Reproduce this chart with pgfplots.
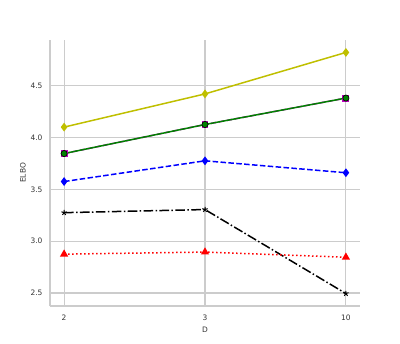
\documentclass[border=0pt]{standalone}
\usepackage{fontspec}
\setmainfont{DejaVu Sans}
\usepackage{pgfplots}
\pgfplotsset{compat=1.18}
\definecolor{mplY}{rgb}{0.75,0.75,0}
\definecolor{mplG}{rgb}{0,0.5,0}
\definecolor{mplM}{rgb}{0.75,0,0.75}
\definecolor{gridc}{rgb}{0.8,0.8,0.8}
\begin{document}
\begin{tikzpicture}
\useasboundingbox (0,0) rectangle (400bp,344bp);
\begin{axis}[
    at={(50bp,38bp)}, anchor=south west,
    scale only axis,
    width=310bp, height=266bp,
    xmin=-0.1, xmax=2.1,
    ymin=2.375, ymax=4.94,
    xtick={0,1,2}, xticklabels={2,3,10},
    ytick={2.5,3.0,3.5,4.0,4.5},
    yticklabel style={/pgf/number format/fixed, /pgf/number format/fixed zerofill, /pgf/number format/precision=1, xshift=-4bp},
    /pgf/number format/assume math mode=true,
    axis x line*=bottom, axis y line*=left,
    axis line style={gridc, line width=1.3bp, -},
    major tick length=0pt,
    grid=major,
    major grid style={gridc, line width=1.1bp},
    tick label style={font=\fontsize{7.5}{8}\selectfont, text=black!80},
    label style={font=\fontsize{7.5}{8}\selectfont, text=black!80},
    xlabel={D}, ylabel={ELBO},
    ylabel style={yshift=-2bp},
    xticklabel style={yshift=-5bp},
    clip=false,
]
% yellow, diamonds
\addplot[mplY, line width=1.5bp, mark=diamond*, mark size=3.2bp] coordinates {(0,4.10) (1,4.42) (2,4.82)};
% magenta, dashed, squares (under the green)
\addplot[mplM, line width=1.5bp, dash pattern=on 5.5bp off 2.4bp, mark=square*, mark size=2.7bp, mark options={solid}] coordinates {(0,3.845) (1,4.125) (2,4.38)};
% green, circles
\addplot[mplG, line width=1.5bp, mark=*, mark size=3.1bp, mark options={draw=black, line width=0.6bp, fill=mplG}] coordinates {(0,3.845) (1,4.125) (2,4.38)};
% blue, dashed, diamonds
\addplot[blue, line width=1.5bp, dash pattern=on 5.5bp off 2.4bp, mark=diamond*, mark size=3.2bp, mark options={solid}] coordinates {(0,3.575) (1,3.775) (2,3.66)};
% black, dash-dot, stars
\addplot[black, line width=1.5bp, dash pattern=on 9.6bp off 2.4bp on 1.5bp off 2.4bp, mark=star, mark size=2.8bp, mark options={solid, line width=1bp}] coordinates {(0,3.275) (1,3.305) (2,2.495)};
% red, dotted, triangles
\addplot[red, line width=1.5bp, dash pattern=on 1.5bp off 2.5bp, mark=triangle*, mark size=3.3bp, mark options={solid}] coordinates {(0,2.875) (1,2.895) (2,2.845)};
\end{axis}
\end{tikzpicture}
\end{document}
